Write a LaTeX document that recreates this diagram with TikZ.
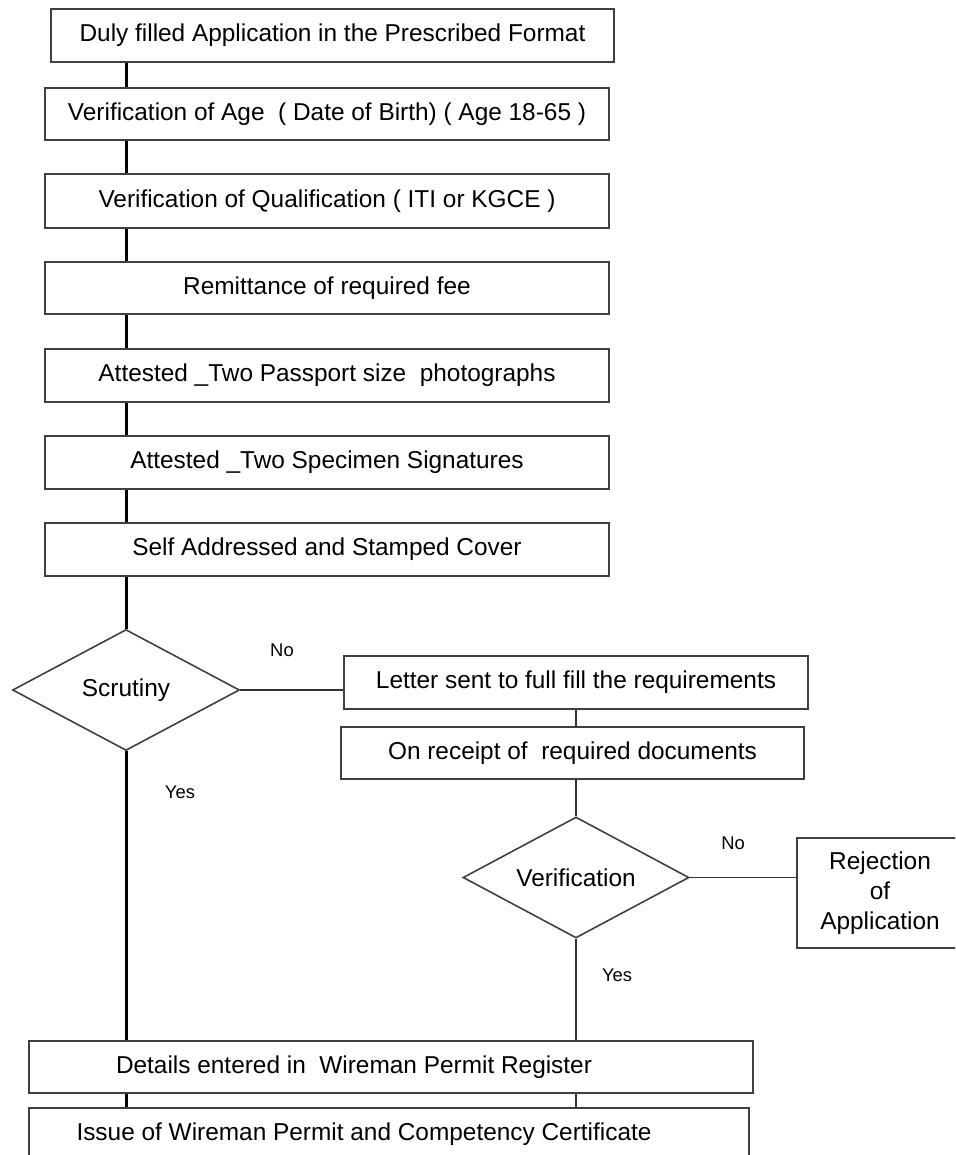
\documentclass[tikz,border=0pt]{standalone}
\usepackage{fontspec}
\setmainfont{Liberation Sans}
\usetikzlibrary{shapes.geometric}

\begin{document}
\begin{tikzpicture}[%
      x=0.5pt, y=-0.5pt,
      stepbox/.style={draw=black!75, line width=0.9pt, rectangle, inner sep=0pt,
        minimum width=282pt, minimum height=26.5pt, align=center,
        font=\fontsize{12.2}{15}\selectfont},
      checkbox/.style={draw=black!75, line width=0.8pt, diamond, aspect=1.87, inner sep=0pt,
        minimum width=113.5pt, minimum height=60.5pt,
        font=\fontsize{12.2}{15}\selectfont},
      mainline/.style={line width=1.5pt, black},
      sideline/.style={line width=0.75pt, black!80},
      answer/.style={font=\fontsize{9.2}{11}\selectfont},
      ]
      \useasboundingbox (0,0) rectangle (955,1155);
      \clip (0,0) rectangle (955,1155);

      \node[stepbox, minimum width=281.5pt] (apply) at (332.5,35.5) {Duly filled Application in the Prescribed Format};
      \node[stepbox, minimum height=26pt] (age) at (327,114) {Verification of Age\ \ ( Date of Birth) ( Age 18-65 )};
      \node[stepbox, minimum height=27pt] (qual) at (327,201) {Verification of Qualification ( ITI or KGCE )};
      \node[stepbox, minimum height=26pt] (fee) at (327,288) {Remittance of required fee};
      \node[stepbox] (photo) at (327,375.5) {Attested \_Two Passport size\ \ photographs};
      \node[stepbox] (sign) at (327,462.5) {Attested \_Two Specimen Signatures};
      \node[stepbox] (cover) at (327,549.5) {Self Addressed and Stamped Cover};

      \node[checkbox] (scrutiny) at (126,690) {Scrutiny\hspace{9pt}};
      \node[stepbox, minimum width=232pt] (letter) at (576,682.5) {Letter sent to full fill the requirements};
      \node[stepbox, minimum width=231.5pt, minimum height=26pt] (receipt) at (572.5,753) {On receipt of\ \ required documents};
      \node[checkbox, minimum width=113pt] (verify) at (576,877.5) {Verification};
      \node[stepbox, minimum width=83pt, minimum height=55pt] (reject) at (880,893) {Rejection\\of\\Application};

      \node[stepbox, minimum width=362pt, minimum height=26pt] (details) at (391,1067) {Details entered in\ \ Wireman Permit Register\hspace{37pt}};
      \node[stepbox, minimum width=360pt, minimum height=26pt] (issue) at (389,1134) {Issue of Wireman Permit and Competency Certificate\hspace{25pt}};

      % main column
      \draw[mainline] (apply.south -| scrutiny) -- (age.north -| scrutiny);
      \draw[mainline] (age.south -| scrutiny) -- (qual.north -| scrutiny);
      \draw[mainline] (qual.south -| scrutiny) -- (fee.north -| scrutiny);
      \draw[mainline] (fee.south -| scrutiny) -- (photo.north -| scrutiny);
      \draw[mainline] (photo.south -| scrutiny) -- (sign.north -| scrutiny);
      \draw[mainline] (sign.south -| scrutiny) -- (cover.north -| scrutiny);
      \draw[mainline] (cover.south -| scrutiny) -- (scrutiny.north);
      \draw[mainline] (scrutiny.south) -- (details.north -| scrutiny);
      \draw[mainline] (details.south -| scrutiny) -- (issue.north -| scrutiny);

      % side branch
      \draw[sideline] (scrutiny.east) -- (scrutiny.east -| letter.west);
      \draw[sideline] (letter.south -| verify) -- (receipt.north -| verify);
      \draw[sideline] (receipt.south -| verify) -- (verify.north);
      \draw[sideline] (verify.east) -- (verify.east -| reject.west);
      \draw[sideline] (verify.south) -- (details.north -| verify);
      \draw[sideline] (details.south -| verify) -- (issue.north -| verify);

      \node[answer] (noa) at (282,650) {No};
      \node[answer] (yesa) at (180,792) {Yes};
      \node[answer] (nob) at (733,843) {No};
      \node[answer] (yesb) at (617,975) {Yes};
\end{tikzpicture}
\end{document}
